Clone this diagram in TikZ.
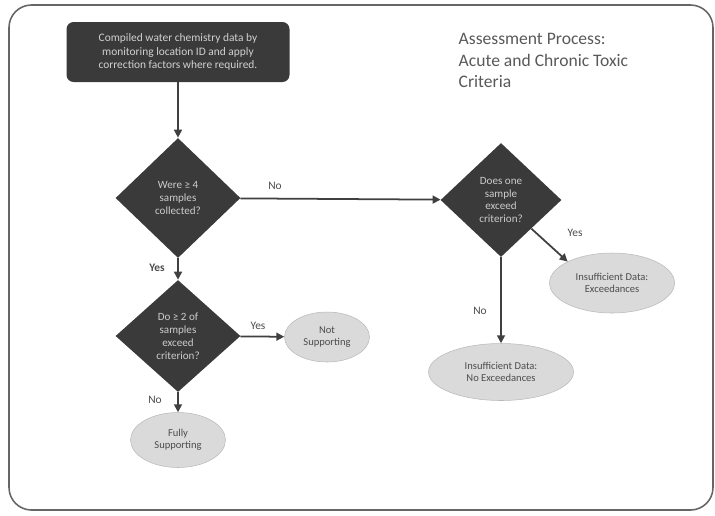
\documentclass[tikz,border=0pt]{standalone}
\usepackage{fontspec}
\setmainfont{Carlito}
\usetikzlibrary{shapes.geometric,arrows.meta}
\definecolor{darkfill}{HTML}{3A3A3A}
\definecolor{ovalfill}{HTML}{DADADA}
\definecolor{flowline}{HTML}{404040}
\tikzset{
  startbox/.style={rectangle, rounded corners=4pt, fill=darkfill, text=white!82!black,
    minimum width=4.46cm, minimum height=1.2cm, align=center, inner sep=2pt,
    font=\fontsize{6.5}{7.6}\selectfont},
  decision/.style={diamond, fill=darkfill, text=white!80!black, inner sep=0pt,
    minimum width=2.5cm, minimum height=2.4cm, align=center,
    font=\fontsize{6.3}{7.3}\selectfont},
  outcome/.style={ellipse, fill=ovalfill, draw=ovalfill!85!black, line width=0.3pt,
    text=black!70, inner sep=0pt, align=center, font=\fontsize{6}{7}\selectfont},
  flow/.style={draw=flowline, line width=1pt, -{Triangle[length=4.5pt,width=4.5pt]}},
  lbl/.style={text=black!70, font=\fontsize{6.5}{7.5}\selectfont}
}
\begin{document}
\begin{tikzpicture}
\useasboundingbox (0,0) rectangle (14.3,-10.3);
% outer frame
\draw[black!60, line width=0.9pt, rounded corners=0.45cm] (0.18,-0.1) rectangle (14.26,-10.2);
% title
\node[anchor=north west, align=left, text=black!65, font=\fontsize{10}{12.2}\selectfont] (title) at (9.05,-0.55)
  {Assessment Process:\\Acute and Chronic Toxic\\Criteria};
% nodes
\node[startbox] (data) at (3.56,-1.04)
  {Compiled water chemistry data by\\monitoring location ID and apply\\correction factors where required.};
\node[decision] (few) at (3.56,-3.96) {Were ≥ 4\\samples\\collected?};
\node[decision, minimum width=2.42cm, minimum height=2.28cm] (one) at (10.02,-4.0)
  {Does one\\sample\\exceed\\criterion?};
\node[decision, minimum height=2.24cm] (two) at (3.56,-6.72)
  {Do ≥ 2 of\\samples\\exceed\\criterion?};
\node[outcome, minimum width=1.7cm, minimum height=1.0cm] (notsup) at (6.54,-6.74) {Not\\Supporting};
\node[outcome, minimum width=1.9cm, minimum height=1.1cm] (fully) at (3.56,-8.8) {Fully\\Supporting};
\node[outcome, minimum width=2.5cm, minimum height=1.2cm] (insex) at (12.24,-5.66)
  {Insufficient Data:\\Exceedances};
\node[outcome, minimum width=2.9cm, minimum height=1.14cm] (insno) at (10.02,-7.44)
  {Insufficient Data:\\No Exceedances};
% connectors
\draw[flow] (data) -- (few);
\draw[flow] (few) -- (one);
\draw[flow] (few) -- (two);
\draw[flow] (two) -- (notsup);
\draw[flow] (two) -- (fully);
\draw[flow] (one.south east) -- (insex.north west);
\draw[flow] (one) -- (insno);
% labels
\node[lbl] (l1) at (5.5,-3.72) {No};
\node[lbl, font=\fontsize{6.5}{7.5}\bfseries] (l2) at (3.14,-5.36) {Yes};
\node[lbl] (l3) at (5.16,-6.52) {Yes};
\node[lbl] (l4) at (3.1,-8.0) {No};
\node[lbl] (l5) at (11.5,-4.66) {Yes};
\node[lbl] (l6) at (9.6,-6.22) {No};
\end{tikzpicture}
\end{document}
